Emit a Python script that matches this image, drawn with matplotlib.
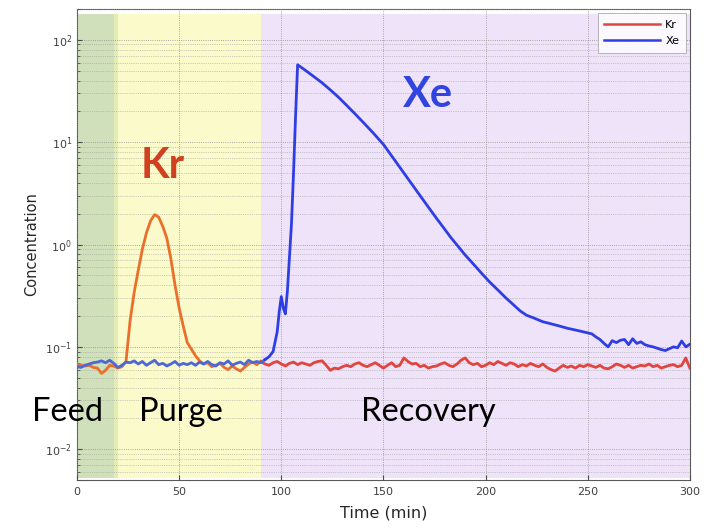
import numpy as np
import matplotlib.pyplot as plt
from matplotlib.ticker import LogLocator, NullFormatter

# Kr breakthrough, sampled every 2 min from 0 to 300
kr_time = np.arange(0, 301, 2)
kr_feed = [0.068, 0.066, 0.065, 0.066, 0.063, 0.062, 0.055, 0.059, 0.066, 0.065, 0.062, 0.064]
kr_peak = [0.072, 0.18, 0.34, 0.56, 0.90, 1.30, 1.70, 1.96, 1.85, 1.50, 1.15, 0.72, 0.40, 0.24,
           0.16, 0.11, 0.095, 0.082, 0.073]
kr_purge_tail = [0.068, 0.070, 0.064, 0.066, 0.069, 0.063, 0.060, 0.065, 0.061, 0.058, 0.063,
                 0.068, 0.071, 0.067, 0.072]
kr_recovery = [0.068, 0.066, 0.070, 0.072, 0.068, 0.065, 0.069, 0.071, 0.067, 0.070,
               0.068, 0.066, 0.070, 0.072, 0.073, 0.066, 0.059, 0.062, 0.061, 0.064,
               0.066, 0.064, 0.068, 0.070, 0.066, 0.064, 0.067, 0.070, 0.066, 0.062,
               0.066, 0.070, 0.064, 0.066, 0.078, 0.072, 0.068, 0.069, 0.064, 0.066,
               0.062, 0.064, 0.065, 0.068, 0.070, 0.066, 0.064, 0.068, 0.074, 0.078,
               0.070, 0.067, 0.069, 0.064, 0.066, 0.070, 0.067, 0.072, 0.069, 0.066,
               0.070, 0.068, 0.064, 0.067, 0.065, 0.069, 0.066, 0.064, 0.068, 0.063,
               0.060, 0.058, 0.062, 0.066, 0.063, 0.065, 0.062, 0.066, 0.064, 0.067,
               0.065, 0.063, 0.066, 0.062, 0.061, 0.064, 0.068, 0.066, 0.063, 0.066,
               0.062, 0.064, 0.066, 0.065, 0.068, 0.064, 0.066, 0.062, 0.064, 0.066,
               0.067, 0.064, 0.066, 0.078, 0.062]
kr_conc = np.array(kr_feed + kr_peak + kr_purge_tail + kr_recovery)

# Xe breakthrough
xe_time = np.concatenate([
    np.arange(0, 95, 2),
    [96, 98, 99, 100, 101, 102, 103, 104, 105, 106, 107, 108],
    [112, 116, 120, 124, 128, 132, 136, 140, 145, 150, 155, 160, 165, 168, 172, 176,
     180, 183, 186, 190, 194, 198, 202, 206, 210, 214, 217, 220, 224, 228, 232, 236, 240,
     244, 248, 252],
    np.arange(254, 301, 2),
])
xe_base = [0.064, 0.063, 0.066, 0.068, 0.070, 0.071, 0.073, 0.070, 0.074, 0.069,
           0.063, 0.066, 0.071, 0.070, 0.073, 0.068, 0.072, 0.066, 0.070, 0.074,
           0.067, 0.069, 0.065, 0.068, 0.072, 0.066, 0.069, 0.067, 0.070, 0.066,
           0.071, 0.068, 0.072, 0.067, 0.065, 0.070, 0.068, 0.073, 0.066, 0.069,
           0.071, 0.067, 0.074, 0.070, 0.072, 0.070, 0.075, 0.080]
xe_rise = [0.09, 0.14, 0.22, 0.31, 0.24, 0.21, 0.35, 0.75, 1.6, 5.0, 18.0, 57.0]
xe_decay = [50, 43.6, 38, 32.4, 27.5, 22.9, 19.0, 15.7, 12.3, 9.5, 6.9, 5.0, 3.63, 2.99,
            2.32, 1.80, 1.41, 1.17, 0.99, 0.79, 0.645, 0.525, 0.43, 0.36, 0.30, 0.254,
            0.224, 0.204, 0.19, 0.176, 0.168, 0.16, 0.152, 0.146, 0.14, 0.134]
xe_tail = [0.125, 0.118, 0.108, 0.100, 0.115, 0.110, 0.116, 0.118, 0.105, 0.120,
           0.108, 0.112, 0.105, 0.102, 0.100, 0.097, 0.094, 0.092, 0.096, 0.100,
           0.098, 0.114, 0.100, 0.106]
xe_conc = np.array(xe_base + xe_rise + xe_decay + xe_tail, dtype=float)

assert len(kr_time) == len(kr_conc)
assert len(xe_time) == len(xe_conc)

# process steps (min)
phases = [(0, 18, '#cfe0bb'), (18, 20, '#e2ecb4'), (20, 90, '#fbfacb'), (90, 300, '#efe3f9')]
switch = 90

fig = plt.figure(figsize=(7.16, 5.29), dpi=100)
ax = fig.add_axes([0.1075, 0.0926, 0.856, 0.8904])

for start, end, col in phases:
    ax.axvspan(start, end, ymin=0.004, ymax=0.99, color=col, lw=0, zorder=0)

# line colours look different over the yellow and purple backgrounds
kr_a = kr_time <= switch
kr_b = kr_time >= switch
xe_a = xe_time <= switch + 2
xe_b = xe_time >= switch + 2
ax.plot(kr_time[kr_a], kr_conc[kr_a], color='#ea6f2c', lw=2.0, zorder=3)
ax.plot(kr_time[kr_b], kr_conc[kr_b], color='#e0453e', lw=2.0, zorder=3)
ax.plot(xe_time[xe_a], xe_conc[xe_a], color='#4e67d6', lw=2.0, zorder=4)
ax.plot(xe_time[xe_b], xe_conc[xe_b], color='#2f3ee4', lw=2.0, zorder=4)

# legend handles
ax.plot([], [], color='#e0453e', lw=1.8, label='Kr')
ax.plot([], [], color='#2f3ee4', lw=1.8, label='Xe')
leg = ax.legend(loc='upper right', fontsize=8, frameon=True, fancybox=False,
                handlelength=5.0, borderaxespad=0.35, labelspacing=0.6, borderpad=0.6,
                handletextpad=0.5)
leg.get_frame().set_edgecolor('0.6')
leg.get_frame().set_linewidth(0.6)

ax.set_yscale('log')
ax.set_xlim(0, 300)
ax.set_ylim(0.005, 200)
ax.set_xticks([0, 50, 100, 150, 200, 250, 300])
ax.yaxis.set_major_locator(LogLocator(base=10, numticks=10))
ax.yaxis.set_minor_locator(LogLocator(base=10, subs=np.arange(2, 10), numticks=20))
ax.yaxis.set_minor_formatter(NullFormatter())
ax.tick_params(which='both', direction='in', labelsize=8, labelcolor='0.25', color='0.3')
ax.tick_params(axis='x', pad=5)
ax.grid(True, which='major', linestyle=':', color='0.55', linewidth=0.6)
ax.grid(True, which='minor', axis='y', linestyle=':', color='0.62', linewidth=0.5)
ax.set_axisbelow(False)
for s in ax.spines.values():
    s.set_color('0.35')
    s.set_linewidth(0.8)

ax.set_xlabel('Time (min)', fontsize=11.5, color='0.15', labelpad=6)
ax.set_ylabel('Concentration', fontsize=10.5, color='0.15')

font = 'Lato'
ax.text(42, 5.8, 'Kr', fontsize=30, color='#d1401f', family=font, weight='bold',
        ha='center', va='center', zorder=5)
ax.text(172, 29, 'Xe', fontsize=30, color='#3144e0', family=font, weight='bold',
        ha='center', va='center', zorder=5)
ax.text(-4.5, 0.023, 'Feed', fontsize=23.5, color='black', family=font, ha='center',
        va='center', zorder=5, clip_on=False)
ax.text(51, 0.023, 'Purge', fontsize=23.5, color='black', family=font, ha='center',
        va='center', zorder=5)
ax.text(172, 0.023, 'Recovery', fontsize=23.5, color='black', family=font, ha='center',
        va='center', zorder=5)

fig.savefig('out.png', dpi=100)
